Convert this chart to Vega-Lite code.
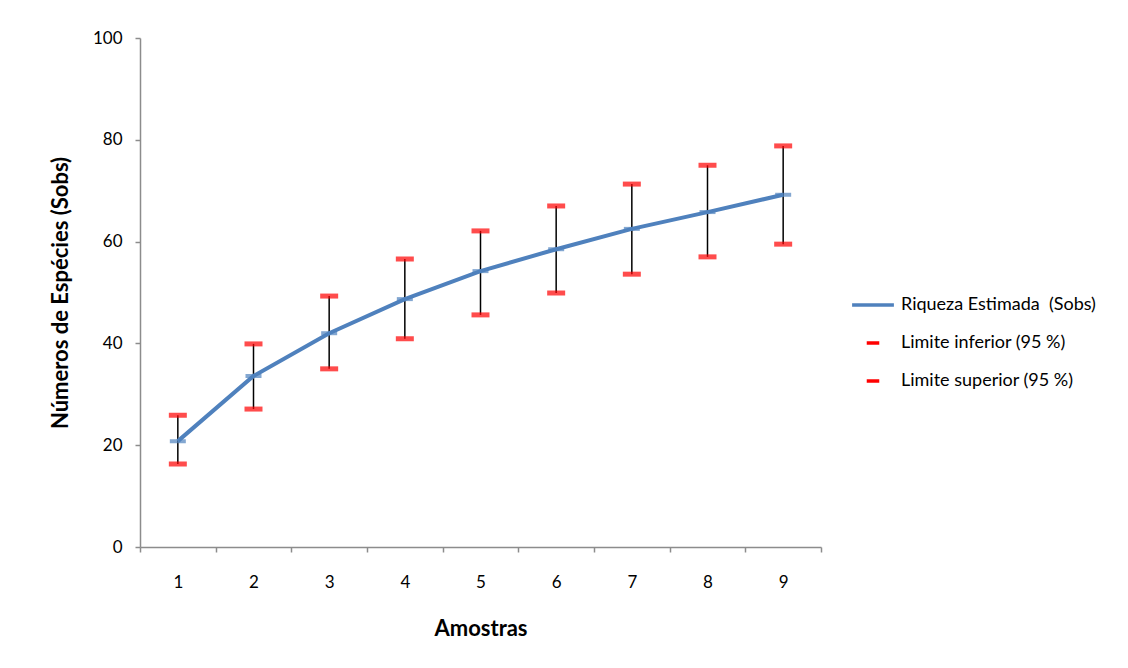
{
  "$schema": "https://vega.github.io/schema/vega-lite/v6.json",
  "autosize": "none",
  "width": 681,
  "height": 509,
  "padding": {"left": 140, "top": 38, "right": 307, "bottom": 121},
  "background": "white",
  "config": {
    "font": "Lato",
    "view": {"stroke": null},
    "axis": {
      "domainColor": "#8c8c8c",
      "domainWidth": 1.5,
      "tickColor": "#8c8c8c",
      "tickWidth": 1.5,
      "tickSize": 5,
      "grid": false,
      "labelFont": "Lato",
      "labelFontSize": 17,
      "labelColor": "black",
      "titleFont": "Lato",
      "titleFontSize": 22,
      "titleFontWeight": "bold",
      "titleColor": "black"
    }
  },
  "data": {
    "values": [
      {"amostra": "1", "sobs": 20.8, "inf": 16.3, "sup": 25.9},
      {"amostra": "2", "sobs": 33.6, "inf": 27.1, "sup": 39.9},
      {"amostra": "3", "sobs": 42.0, "inf": 35.0, "sup": 49.3},
      {"amostra": "4", "sobs": 48.7, "inf": 40.9, "sup": 56.6},
      {"amostra": "5", "sobs": 54.2, "inf": 45.6, "sup": 62.1},
      {"amostra": "6", "sobs": 58.5, "inf": 49.9, "sup": 67.0},
      {"amostra": "7", "sobs": 62.5, "inf": 53.6, "sup": 71.3},
      {"amostra": "8", "sobs": 65.8, "inf": 57.0, "sup": 75.0},
      {"amostra": "9", "sobs": 69.2, "inf": 59.5, "sup": 78.8}
    ]
  },
  "encoding": {
    "x": {
      "field": "amostra",
      "type": "ordinal",
      "scale": {"paddingInner": 0, "paddingOuter": 0},
      "axis": {"title": "Amostras", "labelAngle": 0, "tickBand": "extent", "labelPadding": 22, "titlePadding": 28}
    }
  },
  "layer": [
    {
      "mark": {"type": "rule", "color": "black", "strokeWidth": 1.5},
      "encoding": {
        "y": {
          "field": "inf",
          "type": "quantitative",
          "scale": {"domain": [0, 100]},
          "axis": {"title": "Números de Espécies (Sobs)", "values": [0, 20, 40, 60, 80, 100], "labelPadding": 13, "titlePadding": 20}
        },
        "y2": {"field": "sup"}
      }
    },
    {
      "mark": {"type": "line", "strokeWidth": 4},
      "encoding": {
        "y": {"field": "sobs", "type": "quantitative"},
        "color": {
          "datum": "Riqueza Estimada \u00a0(Sobs)",
          "scale": {
            "domain": ["Riqueza Estimada \u00a0(Sobs)", "Limite inferior (95 %)", "Limite superior (95 %)"],
            "range": ["#4F81BD", "#FF0000", "#FF0000"]
          },
          "legend": {
            "title": null,
            "orient": "none",
            "legendX": 712,
            "legendY": 246,
            "padding": 0,
            "symbolSize": 1444,
            "symbolStrokeWidth": 3,
            "labelFontSize": 18,
            "labelColor": "black",
            "labelFont": "Lato",
            "labelOffset": 7,
            "labelLimit": 0,
            "rowPadding": 8,
            "encode": {
              "symbols": {
                "update": {
                  "shape": {"signal": "indexof(datum.value, 'Riqueza') === 0 ? 'M-1.1,0H1.1' : 'M-0.33,0H0.33'"},
                  "stroke": {"scale": "color", "field": "value"},
                  "fill": {"value": "transparent"},
                  "strokeWidth": {"value": 3.5}
                }
              }
            }
          }
        }
      }
    },
    {
      "mark": {"type": "tick", "thickness": 4, "size": 16},
      "encoding": {
        "y": {"field": "sobs", "type": "quantitative"},
        "color": {"datum": "Riqueza Estimada \u00a0(Sobs)"}
      }
    },
    {
      "mark": {"type": "tick", "thickness": 5, "size": 18},
      "encoding": {
        "y": {"field": "inf", "type": "quantitative"},
        "color": {"datum": "Limite inferior (95 %)"}
      }
    },
    {
      "mark": {"type": "tick", "thickness": 5, "size": 18},
      "encoding": {
        "y": {"field": "sup", "type": "quantitative"},
        "color": {"datum": "Limite superior (95 %)"}
      }
    }
  ]
}
